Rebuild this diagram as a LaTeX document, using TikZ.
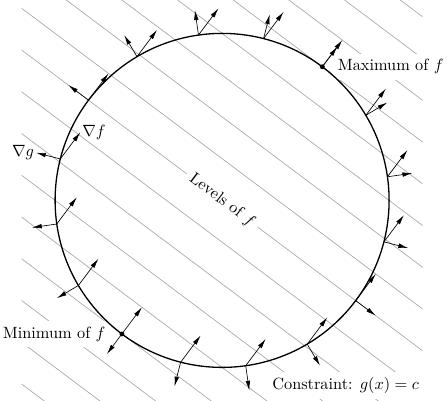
\documentclass[tikz,border=0pt]{standalone}
\usepackage{amsmath, amssymb}
\usepackage{tikz}
\usetikzlibrary{positioning, arrows.meta}

\begin{document}
\begin{tikzpicture}[
    scale=1.2,
    levelline/.style={gray!70, thin},
    constraint/.style={black, thick},
    gradvec/.style={-{Latex[length=6pt, width=2.8pt]}, thin},
    dotnode/.style={circle, fill=black, inner sep=0pt, minimum size=3pt},
    labelnode/.style={fill=white},
    ]
    \useasboundingbox (-3.99,-3.6) rectangle (4.04,3.6);

    % levels of f
    \begin{scope}
        \clip (-3.6,-3.6) rectangle (3.6,3.6);
        \foreach \k in {-8,...,8}
            \draw[levelline] (-4, 0.75*\k+3) -- (4, 0.75*\k-3);
    \end{scope}

    \coordinate (maxpt) at (53.13:3);
    \coordinate (minpt) at (233.13:3);
    \node[labelnode] (maxlabel) [right=2.1mm of maxpt] {Maximum of $f$};
    \node[labelnode] (minlabel) [left=2.3mm of minpt] {Minimum of $f$};
    \node[labelnode, rotate=-36.87] (levels) at (0,0) {Levels of $f$};
    \node[labelnode] (constr) at (2.22,-3.33) {Constraint: $g(x)=c$};

    % constraint g(x)=c
    \draw[constraint] (0,0) circle (3);

    % gradients of f and g along the circle
    \foreach \a in {0,...,15} {
        \coordinate (p) at ({53.13+22.5*\a}:3);
        \draw[gradvec] (p) -- ++(0.36,0.48);
        \draw[gradvec] (p) -- ++({53.13+22.5*\a}:0.45);
    }

    \path (165.63:3) ++(0.36,0.48) coordinate (ftip);
    \path (165.63:3.45) coordinate (gtip);
    \node[inner sep=1pt] (gradf) [right=0pt of ftip] {$\nabla f$};
    \node[inner sep=1pt] (gradg) [left=0pt of gtip] {$\nabla g$};

    \node[dotnode] (max) at (maxpt) {};
    \node[dotnode] (min) at (minpt) {};
\end{tikzpicture}
\end{document}
